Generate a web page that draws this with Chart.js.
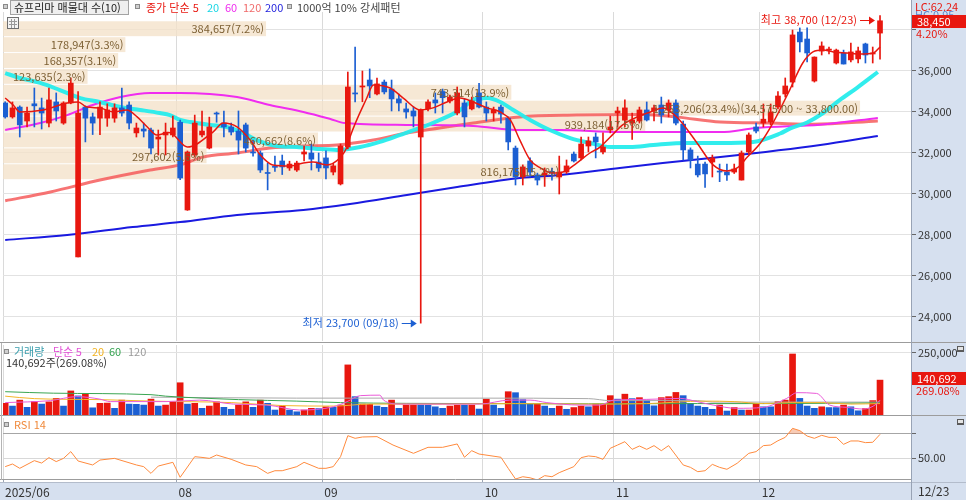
<!DOCTYPE html>
<html lang="ko">
<head>
<meta charset="utf-8">
<title>슈프리마</title>
<script src="https://cdn.jsdelivr.net/npm/chart.js@4.4.1/dist/chart.umd.min.js"></script>
<style>
  html, body { margin: 0; padding: 0; background: #fff; }
  #wrap { position: relative; width: 966px; height: 500px; overflow: hidden; }
  #wrap canvas { position: absolute; left: 0; }
</style>
</head>
<body>
<div id="wrap">
  <canvas id="price-canvas" width="966" height="343" style="top:0"></canvas>
  <canvas id="volume-canvas" width="966" height="73" style="top:343px"></canvas>
  <canvas id="rsi-canvas" width="966" height="84" style="top:416px"></canvas>
</div>
<script>
const FONT = '"Noto Sans CJK KR", "Noto Sans", sans-serif';
const UP = '#e8170f';
const DOWN = '#1c5fd2';
const AXIS_BG = '#d6e0ef';
const AXIS_W = 55;
const X_MIN = -0.3, X_MAX = 124.25;

// daily candles 2025/06/30 .. 2025/12/23
const opens = [34440, 33760, 34240, 33560, 34400, 34200, 33460, 34490, 33460, 34440,
  26930, 34240, 33760, 33700, 33700, 33700, 34200, 34340, 32980, 33170,
  33120, 32680, 32880, 32880, 33500, 29220, 31900, 32880, 32240, 33950,
  33460, 33270, 33070, 33370, 32050, 32000, 31050, 31350, 31610, 31270,
  31170, 31950, 32000, 31560, 31760, 31070, 30490, 32290, 34930, 35220,
  35560, 34880, 35460, 35120, 34640, 34150, 34050, 32780, 34150, 34590,
  35000, 34540, 33950, 34440, 34150, 34930, 34240, 33950, 34240, 33700,
  32240, 30830, 31610, 30930, 30930, 31100, 30830, 31070, 31950, 31760,
  32340, 32780, 32050, 33120, 33950, 33600, 33460, 33560, 34100, 34050,
  34340, 34100, 34440, 33410, 32150, 31460, 31460, 31560, 31100, 31070,
  31070, 30680, 32050, 33270, 33460, 33510, 34240, 34880, 35460, 37900,
  37560, 35510, 36970, 37020, 36390, 36880, 36540, 36590, 37320, 36830,
  37850];
const highs = [34500, 34490, 34300, 34240, 35170, 34680, 35170, 34930, 34500, 35660,
  35000, 34300, 33950, 34490, 34400, 34400, 35170, 34500, 33460, 33460,
  33220, 33120, 33460, 33800, 33600, 32100, 33850, 34050, 33750, 34000,
  34050, 33460, 34050, 33460, 32630, 32100, 31500, 31850, 31900, 31600,
  31600, 32340, 32440, 32000, 32100, 31500, 32440, 35950, 37170, 36000,
  36100, 35660, 35560, 35560, 34880, 34440, 34250, 34150, 34590, 34930,
  35120, 34830, 35220, 34640, 34730, 35400, 34490, 34240, 34340, 33760,
  32340, 31420, 31760, 31020, 31270, 31270, 31850, 31660, 32050, 32780,
  32780, 32980, 32980, 33800, 34240, 34590, 33950, 34240, 34490, 34340,
  34730, 34590, 34590, 33560, 32250, 31850, 31560, 31900, 31460, 31460,
  31460, 32100, 32980, 33460, 34390, 34390, 35000, 35660, 38000, 38100,
  38100, 36690, 37420, 37170, 37070, 37020, 37360, 37170, 37360, 37170,
  38700];
const lows = [33700, 33700, 32780, 33270, 33270, 33170, 33270, 33560, 33400, 34400,
  26930, 32540, 32900, 32900, 33300, 33500, 33800, 33170, 32780, 32780,
  31950, 31900, 31900, 32780, 30700, 29200, 31800, 32780, 32200, 33500,
  32780, 32880, 31950, 32050, 31850, 31050, 30200, 31100, 30950, 31150,
  31100, 31610, 31170, 31100, 30730, 30930, 30440, 32200, 34490, 34500,
  34700, 34830, 34880, 34050, 34050, 33700, 33270, 23700, 34050, 33950,
  33950, 34440, 33860, 33270, 34100, 34200, 33560, 33560, 33460, 32150,
  30440, 30440, 30830, 30440, 30370, 30680, 30000, 31000, 31560, 31660,
  32050, 31760, 31950, 32980, 33270, 33270, 32660, 33460, 33560, 33560,
  33460, 33760, 33370, 31660, 31270, 30830, 30320, 30830, 30600, 30660,
  31000, 30680, 31950, 32980, 33270, 33370, 34150, 34730, 35220, 36930,
  36440, 35460, 36780, 36830, 36340, 36340, 36440, 36390, 36390, 36390,
  36580];
const closes = [33760, 34200, 33370, 33950, 34300, 33950, 34590, 34050, 34440, 35410,
  33950, 33700, 33460, 34240, 34100, 34200, 33950, 33460, 33220, 33070,
  32240, 32780, 33020, 33220, 30780, 32050, 33460, 33070, 33270, 33900,
  33270, 33020, 32630, 32240, 32000, 31170, 31000, 31300, 31320, 31460,
  31510, 32050, 31700, 31270, 31270, 31370, 32340, 35220, 34880, 35270,
  35270, 35370, 34980, 34640, 34440, 34000, 33800, 34100, 34490, 34440,
  34700, 34730, 34930, 33760, 34540, 34240, 33950, 34100, 33900, 32540,
  30830, 31320, 31070, 30680, 31020, 31020, 31070, 31370, 31610, 32440,
  32590, 32540, 32290, 33270, 34050, 34200, 33610, 34100, 33610, 34200,
  33850, 34440, 33460, 32150, 31660, 30930, 30980, 31760, 31070, 30930,
  31220, 32000, 32880, 33070, 33650, 34000, 34780, 35270, 37760, 37420,
  36880, 36680, 37220, 37070, 37020, 36340, 36930, 36980, 36780, 36880,
  38450];
const volumes = [47000, 36000, 60000, 31000, 54000, 44000, 53000, 67000, 36000, 97000,
  77000, 87000, 29000, 47000, 48000, 27000, 60000, 44000, 43000, 40000,
  64000, 36000, 40000, 53000, 130000, 44000, 47000, 27000, 36000, 53000,
  31000, 23000, 40000, 53000, 31000, 60000, 47000, 20000, 36000, 20000,
  13000, 20000, 27000, 26000, 33000, 31000, 40000, 202000, 74000, 44000,
  43000, 36000, 31000, 60000, 27000, 40000, 40000, 40000, 40000, 33000,
  27000, 36000, 40000, 40000, 40000, 24000, 64000, 40000, 27000, 94000,
  90000, 62000, 44000, 44000, 36000, 27000, 36000, 23000, 30000, 36000,
  33000, 44000, 44000, 78000, 64000, 84000, 66000, 70000, 60000, 37000,
  70000, 74000, 91000, 78000, 47000, 36000, 31000, 23000, 40000, 16000,
  30000, 20000, 20000, 47000, 33000, 33000, 54000, 60000, 246000, 67000,
  36000, 27000, 33000, 30000, 30000, 40000, 33000, 17000, 26000, 58000,
  140692];
// volume bar colour: R = red, B = blue
const volumeDir = 'RBRBRBRRBR' + 'BRBRRBRBBB' + 'RBRRRBRBRR' + 'BBRRBRBBRB' + 'BRRBRBRRBR' +
  'RBBRBRRBBB' + 'BRRBRBRBBR' + 'BBBRBBRBRR' + 'BRRRBRBRBB' + 'RRRBBBBBRB' +
  'RBRRBBRRRB' + 'BBRBBRBBRRR';

const monthTicks = [-0.3, 23.5, 43.5, 65.5, 83.5, 103.5];
const monthLabels = ['2025/06', '08', '09', '10', '11', '12'];
const lastDate = '12/23';
const highDate = '12/23';
const lowDate = '09/18';
const lastChange = '4.20%';
const volumeRatio = '269.08%';

// moving averages as [candle index, value]
const ma5 = [[0, 34680], [1.1, 34340], [2, 34000], [5.2, 34100], [8.5, 34440], [10, 34490], [11.2, 34240],
  [13, 34200], [14.8, 34000], [16.7, 34100], [18.1, 33760], [19.5, 33270], [20.8, 32880], [22.5, 33000],
  [25, 32290], [28.5, 33020], [29.9, 33460], [31.8, 33270], [33.6, 32630], [35, 31900], [36.7, 31420],
  [39.1, 31370], [40.9, 31510], [42.2, 31560], [44.1, 31420], [45.9, 31760], [46.9, 32290], [47.3, 32780],
  [49.6, 34680], [50.5, 35320], [52.8, 35170], [54.6, 34680], [56.9, 34100], [58.7, 34200], [60.6, 34490],
  [62.4, 34680], [64.2, 34490], [66.1, 34200], [67.9, 34000], [69.3, 33610], [70.6, 32630], [72, 31660],
  [73.4, 31270], [75.1, 31020], [76.5, 31070], [78.4, 31510], [80.2, 32000], [81.6, 32290], [83, 32780],
  [84.7, 33370], [86.7, 33760], [88.5, 34000], [90.2, 34200], [92.4, 33650], [94.9, 32490], [97.1, 31420],
  [99, 31120], [100.4, 31270], [101.8, 31800], [103.6, 32490], [105.3, 33460], [107.6, 35070], [109.4, 36390],
  [110.8, 36930], [112.2, 37020], [113.6, 36930], [115.5, 36880], [117.3, 36830], [119.1, 36880], [120, 37170]];
const ma20 = [[0, 35900], [2, 35660], [4.8, 35420], [7.5, 35070], [10.3, 34680], [13, 34490], [15.8, 34240],
  [18.5, 34100], [21.2, 33950], [22.6, 33850], [24, 33610], [25.4, 33510], [28.1, 33370], [30.4, 33270],
  [32.6, 32980], [34.5, 32630], [37.3, 32340], [40, 32290], [42.8, 32200], [45.5, 32150], [48.7, 32290],
  [51.4, 32540], [54.2, 32880], [56.9, 33220], [59.6, 33610], [62.4, 34100], [64.2, 34590], [66.1, 34680],
  [67.9, 34490], [69.7, 34100], [72, 33610], [74.7, 33120], [77.5, 32730], [80.2, 32490], [83, 32290],
  [85.7, 32290], [88.9, 32390], [93.5, 32490], [98.1, 32490], [102.6, 32540], [106.3, 32950], [107.7, 33200],
  [110, 33490], [112.2, 33950], [114.5, 34590], [116.8, 35170], [119.7, 35950]];
const ma60 = [[0, 33120], [4.8, 33460], [8.5, 33850], [12, 34340], [15.8, 34730], [19.9, 34930], [24, 34930],
  [31.8, 34730], [36.3, 34340], [40.9, 34000], [44.6, 33660], [46.6, 33460], [55.1, 33370], [64.2, 33320],
  [70.6, 33120], [76.1, 33120], [84.2, 33020], [91, 33020], [98.1, 33020], [103, 33220], [111.8, 33380],
  [119.7, 33710]];
const ma120 = [[0, 29670], [6.2, 30100], [13, 30680], [19.9, 31170], [24, 31420], [27.1, 31800], [31.8, 32000],
  [36.3, 32240], [40.9, 32340], [45.5, 32390], [50.5, 32630], [55.1, 32980], [59.6, 33220], [64.2, 33460],
  [70.6, 33760], [78.4, 33850], [87.5, 33880], [92.2, 33750], [98.1, 33510], [104.9, 33460], [110.8, 33400],
  [119.7, 33560]];
const ma200 = [[0, 27760], [8.5, 28000], [17.5, 28390], [24, 28630], [31.8, 28980], [40.9, 29220],
  [47.3, 29510], [55.1, 29950], [62, 30340], [70.6, 30780], [76.1, 30930], [84.3, 31270], [90.2, 31510],
  [98.1, 31800], [111.8, 32390], [119.7, 32830]];

const volMa5 = [[0, 50000], [6.2, 58000], [9.8, 74000], [13, 64000], [14.4, 54000], [22.1, 54000],
  [26.7, 60000], [31.3, 44000], [35.9, 40000], [40.4, 20000], [45, 33000], [46.9, 54000], [48.7, 78000],
  [51.4, 80000], [51.9, 60000], [54.2, 44000], [65.1, 44000], [69.2, 60000], [72, 60000], [74.3, 50000],
  [78.8, 40000], [81.6, 40000], [83.4, 60000], [88, 63000], [92.6, 67000], [94.9, 54000], [97.1, 40000],
  [100.3, 27000], [104, 31000], [107.2, 67000], [108.6, 90000], [111.3, 87000], [113.1, 40000],
  [115.4, 31000], [117.7, 24000], [119.5, 44000], [120, 60000]];
const volMa20 = [[0, 76000], [4, 66000], [13, 62000], [20, 56000], [31, 50000], [38, 38000], [45, 36000],
  [50, 44000], [60, 44000], [70, 46000], [80, 44000], [88, 46000], [96, 56000], [100, 54000], [104, 46000],
  [108, 50000], [112, 50000], [116, 44000], [120, 46000]];
const volMa60 = [[0, 94000], [6.6, 88000], [20, 82000], [22, 76000], [27, 68000], [32, 62000], [40, 56000],
  [46, 50000], [55, 47000], [65, 46000], [80, 45000], [95, 46000], [105, 46000], [120, 49000]];
const volMa120 = [[20, 72000], [40, 68000], [65, 68000], [80, 66000], [83, 58000], [95, 58000], [97, 52000],
  [120, 52000]];

const rsi14 = [[0, 42.8], [1, 45], [2, 41.4], [4, 47.8], [5, 45.8], [6, 50.3], [7, 47], [8, 49.7], [9, 55.3],
  [10, 47.5], [12, 44.2], [13, 48.3], [15, 49.7], [18, 44.2], [19, 42.8], [20, 37.2], [21, 43.3], [23, 46.4],
  [24, 33.9], [26, 51.1], [27, 50.5], [28, 49.7], [29, 52.5], [31, 48.9], [33, 44.2], [34.5, 42.8], [36, 37.2],
  [37, 39.4], [38, 39.4], [40, 42.8], [41, 46.4], [43, 41.4], [44, 41.4], [45, 42.8], [46, 51.1], [47, 68.6],
  [48, 66.4], [49, 67.5], [51, 67.8], [53.2, 60.8], [56, 53.9], [58, 58.9], [60, 58.9], [62, 61.7], [63, 50.6],
  [64, 56.1], [65, 53.3], [68, 50.6], [69, 41.4], [70, 32.5], [71, 34.4], [72, 33.5], [73, 31.7], [74, 35.3],
  [75, 34.4], [76, 37.8], [78, 42.8], [79, 50.3], [80, 51.7], [81, 51.1], [82, 48.9], [83, 58.1], [84, 60.8],
  [85, 63.6], [86, 57.2], [87, 60], [88, 57.2], [89, 60.3], [90, 56.1], [91, 60.3], [93, 44.2], [94, 42.2],
  [95, 38.6], [96, 39.4], [97, 44.7], [98, 42.2], [99, 40.6], [100.4, 45.6], [102, 53.9], [103, 55.3],
  [104, 60.3], [105, 60.8], [106, 64.4], [107, 67.2], [108, 74.7], [109, 72.8], [110, 68.3], [111, 66.4],
  [112, 68.9], [113, 67.2], [114, 67.2], [115, 61.4], [116, 64.2], [117, 64.2], [118, 62.8], [119, 63.1],
  [120, 69.7]];

// volume profile (매물대), bottom band first
const bandFloor = 30700;
const bandStep = 775;
const bandVolumes = [816175, 297602, 460662, 939184, 1253206, 743314, 123635, 168357, 178947, 384657];
const bandPct = [15.2, 5.6, 8.6, 17.5, 23.4, 13.9, 2.3, 3.1, 3.3, 7.2];

const priceTicks = [24000, 26000, 28000, 30000, 32000, 34000, 36000, 38000];


const fmt = v => v.toLocaleString('en-US');
const fmt2 = v => v.toLocaleString('en-US', { minimumFractionDigits: 2, maximumFractionDigits: 2 });

function xAxis(showLabels) {
    return {
        type: 'linear', min: X_MIN, max: X_MAX, offset: false,
        afterBuildTicks: s => { s.ticks = monthTicks.map(v => ({ value: v })); },
        afterFit: s => { s.height = showLabels ? 20 : 0; s.paddingLeft = 0; s.paddingRight = 0; },
        grid: { color: '#dadada', drawTicks: showLabels, tickLength: 3, tickColor: '#9aa4b4', offset: false },
        border: { display: false },
        ticks: {
            display: showLabels, autoSkip: false, maxRotation: 0, minRotation: 0,
            align: 'start', labelOffset: 2, padding: 2, color: '#333',
            font: { family: FONT, size: 12 },
            callback: (v, i) => monthLabels[i]
        }
    };
}

// invisible axis that turns a band volume into a bar length
function bandAxis() {
    return {
        type: 'linear', position: 'bottom', min: 0, max: 1327740, offset: false,
        afterFit: s => { s.height = 0; s.paddingLeft = 0; s.paddingRight = 0; },
        grid: { display: false, drawTicks: false, offset: false },
        border: { display: false },
        ticks: { display: false }
    };
}

function yAxis(min, max, ticks, label, gridColor) {
    return {
        type: 'linear', position: 'right', min: min, max: max,
        afterBuildTicks: s => { s.ticks = ticks.map(v => ({ value: v })); },
        afterFit: s => { s.width = AXIS_W; s.paddingTop = 0; s.paddingBottom = 0; },
        grid: { color: gridColor, drawTicks: true, tickLength: 5, tickColor: '#666' },
        border: { display: false },
        ticks: { padding: 2, color: '#333', font: { family: FONT, size: 11 }, callback: label }
    };
}

function maLine(points, color, width, order) {
    return {
        type: 'line',
        data: points.map(([x, y]) => ({ x, y })),
        borderColor: color,
        borderWidth: width,
        pointRadius: 0,
        cubicInterpolationMode: 'monotone',
        fill: false,
        order: order
    };
}

function baseOptions(padding) {
    return {
        responsive: false,
        animation: false,
        events: [],
        layout: { padding: padding },
        plugins: { legend: { display: false }, tooltip: { enabled: false } }
    };
}

function square(ctx, x, y) {
    ctx.fillStyle = '#8a8a8a';
    ctx.fillRect(x, y, 5, 5);
    ctx.fillStyle = '#cfcfcf';
    ctx.fillRect(x + 1, y + 1, 3, 3);
}

function texts(ctx, items, y, size) {
    ctx.font = `${size || 11}px ${FONT}`;
    ctx.textBaseline = 'middle';
    ctx.textAlign = 'left';
    for (const [text, color, x] of items) {
        ctx.fillStyle = color;
        ctx.fillText(text, x, y);
    }
}

function arrow(ctx, x0, x1, y, color) {
    ctx.strokeStyle = color;
    ctx.fillStyle = color;
    ctx.lineWidth = 1;
    ctx.beginPath();
    ctx.moveTo(x0, y + 0.5);
    ctx.lineTo(x1 - 4, y + 0.5);
    ctx.stroke();
    ctx.beginPath();
    ctx.moveTo(x1, y + 0.5);
    ctx.lineTo(x1 - 6, y - 3.5);
    ctx.lineTo(x1 - 6, y + 4.5);
    ctx.closePath();
    ctx.fill();
}

function axisBox(ctx, left, right, y, text, sub) {
    ctx.fillStyle = UP;
    ctx.fillRect(left + 1, Math.round(y) - 6, right - left - 1, 13);
    ctx.font = `11px ${FONT}`;
    ctx.textBaseline = 'middle';
    ctx.textAlign = 'left';
    ctx.fillStyle = '#fff';
    ctx.fillText(text, left + 6, Math.round(y) + 0.5);
    ctx.fillStyle = UP;
    ctx.fillText(sub, left + 5, Math.round(y) + 13);
}

function axisIcon(ctx, y) {
    ctx.fillStyle = '#5a5a5a';
    ctx.fillRect(957, y, 7, 6);
    ctx.fillStyle = '#e4e4e4';
    ctx.fillRect(958, y + 1, 5, 3);
}

function fillAxisBackground(chart) {
    const { ctx, width, height, chartArea } = chart;
    ctx.save();
    ctx.fillStyle = AXIS_BG;
    ctx.fillRect(chartArea.right, 0, width - chartArea.right, height);
    ctx.restore();
}

function hLine(ctx, x0, x1, y, color) {
    ctx.strokeStyle = color;
    ctx.lineWidth = 1;
    ctx.beginPath();
    ctx.moveTo(x0, y);
    ctx.lineTo(x1, y);
    ctx.stroke();
}

function vLine(ctx, x, y0, y1, color) {
    ctx.strokeStyle = color;
    ctx.lineWidth = 1;
    ctx.beginPath();
    ctx.moveTo(x, y0);
    ctx.lineTo(x, y1);
    ctx.stroke();
}


const pricePanel = {
    id: 'pricePanel',
    beforeDraw: fillAxisBackground,
    beforeDatasetsDraw(chart) {
        const { ctx, scales: { y, xb } } = chart;
        ctx.save();
        ctx.fillStyle = 'rgba(243, 226, 201, 0.78)';
        bandVolumes.forEach((v, i) => {
            const lo = bandFloor + i * bandStep;
            const top = y.getPixelForValue(lo + bandStep);
            const bottom = y.getPixelForValue(lo);
            const x0 = xb.getPixelForValue(0);
            ctx.fillRect(x0, top + 0.5, xb.getPixelForValue(v) - x0, bottom - top - 1);
        });
        ctx.restore();
    },
    afterDatasetsDraw(chart) {
        const { ctx, scales: { x, y, xb } } = chart;
        ctx.save();
        ctx.font = `11px ${FONT}`;
        ctx.textBaseline = 'middle';
        ctx.textAlign = 'right';
        ctx.fillStyle = '#7d6034';
        const maxVolume = Math.max(...bandVolumes);
        bandVolumes.forEach((v, i) => {
            const lo = bandFloor + i * bandStep;
            let text = `${fmt(v)}(${bandPct[i].toFixed(1)}%)`;
            if (v === maxVolume) {
                text += `(${fmt2(lo + bandStep)} ~ ${fmt2(lo)})`;
            }
            ctx.fillText(text, xb.getPixelForValue(v) - 2, y.getPixelForValue(lo + bandStep / 2) + 0.5);
        });

        // highest / lowest markers
        const hi = Math.max(...highs);
        const hiX = x.getPixelForValue(highs.indexOf(hi)) - 5;
        const hiY = Math.round(y.getPixelForValue(hi)) + 4;
        ctx.fillStyle = UP;
        ctx.fillText(`최고 ${fmt(hi)} (${highDate})`, hiX - 18, hiY);
        arrow(ctx, hiX - 15, hiX, hiY, UP);

        const lo = Math.min(...lows);
        const loX = x.getPixelForValue(lows.indexOf(lo)) - 4;
        const loY = Math.round(y.getPixelForValue(lo));
        ctx.fillStyle = DOWN;
        ctx.fillText(`최저 ${fmt(lo)} (${lowDate})`, loX - 18, loY);
        arrow(ctx, loX - 15, loX, loY, DOWN);
        ctx.restore();
    },
    afterDraw(chart) {
        const { ctx, width, height, chartArea: a, scales: { y } } = chart;
        ctx.save();
        hLine(ctx, 0, width, height - 0.5, '#9c9c9c');
        vLine(ctx, a.right + 0.5, 0, height, '#98a3b5');

        // legend
        square(ctx, 3, 4);
        ctx.fillStyle = '#efefef';
        ctx.fillRect(10.5, 0.5, 118, 14);
        ctx.strokeStyle = '#a3a3a3';
        ctx.strokeRect(10.5, 0.5, 118, 14);
        square(ctx, 135, 4);
        square(ctx, 287, 4);
        texts(ctx, [
            ['슈프리마 매물대 수(10)', '#222', 14],
            ['종가 단순 5', UP, 146],
            ['20', '#19d6e4', 207],
            ['60', '#ee2cee', 225],
            ['120', '#f06a6a', 243],
            ['200', '#2424dd', 265],
            ['1000억 10% 강세패턴', '#444', 297]
        ], 7.5);

        // small table icon
        ctx.fillStyle = '#f4f4f4';
        ctx.fillRect(7.5, 17.5, 11, 11);
        ctx.strokeStyle = '#6f6f6f';
        ctx.strokeRect(7.5, 17.5, 11, 11);
        hLine(ctx, 9, 17, 21.5, '#9a9a9a');
        hLine(ctx, 9, 17, 24.5, '#9a9a9a');
        vLine(ctx, 11.5, 19, 28, '#9a9a9a');
        vLine(ctx, 14.5, 19, 28, '#9a9a9a');

        // right axis texts
        texts(ctx, [['LC:62.24', UP, a.right + 4]], 7);
        texts(ctx, [['HC:0.95', '#5b86cf', a.right + 4]], 15);
        axisBox(ctx, a.right, width, y.getPixelForValue(closes[closes.length - 1]), fmt(closes[closes.length - 1]), lastChange);
        ctx.restore();
    }
};

const volumePanel = {
    id: 'volumePanel',
    beforeDraw: fillAxisBackground,
    afterDraw(chart) {
        const { ctx, width, height, chartArea: a, scales: { y } } = chart;
        ctx.save();
        hLine(ctx, 0, width, height - 0.5, '#9c9c9c');
        vLine(ctx, a.right + 0.5, 0, height, '#98a3b5');
        vLine(ctx, 1.5, 0, height, '#b4b4b4');
        square(ctx, 4, 6);
        texts(ctx, [
            ['거래량', '#3b9ead', 14],
            ['단순 5', '#e24fd6', 53],
            ['20', '#f2b21f', 92],
            ['60', '#33a24f', 109],
            ['120', '#9b9b9b', 128]
        ], 8.5);
        const last = volumes[volumes.length - 1];
        texts(ctx, [[`${fmt(last)}주(${volumeRatio})`, '#333', 6]], 19.5);
        axisIcon(ctx, 3);
        axisBox(ctx, a.right, width, y.getPixelForValue(last) - 2, fmt(last), volumeRatio);
        ctx.restore();
    }
};

const rsiPanel = {
    id: 'rsiPanel',
    beforeDraw(chart) {
        fillAxisBackground(chart);
        const { ctx, width, height, chartArea: a } = chart;
        ctx.save();
        ctx.fillStyle = AXIS_BG;
        ctx.fillRect(0, a.bottom + 3, width, height - a.bottom - 3);
        ctx.restore();
    },
    afterDraw(chart) {
        const { ctx, width, height, chartArea: a } = chart;
        ctx.save();
        hLine(ctx, 0, a.right, a.bottom - 0.5, '#9c9c9c');
        hLine(ctx, 0, width, a.bottom + 2.5, '#b3bccb');
        vLine(ctx, a.right + 0.5, 0, height, '#98a3b5');
        vLine(ctx, 1.5, 0, a.bottom, '#b4b4b4');
        square(ctx, 4, 6);
        texts(ctx, [['RSI 14', '#f08a3c', 14]], 8.5);
        texts(ctx, [[lastDate, '#333', a.right + 7]], a.bottom + 11, 12);
        axisIcon(ctx, 3);
        ctx.restore();
    }
};


const candleColors = opens.map((o, i) => closes[i] >= o ? UP : DOWN);

new Chart(document.getElementById('price-canvas'), {
    type: 'bar',
    data: {
        datasets: [
            maLine(ma5, UP, 1.5, 0),
            {
                type: 'bar',
                data: opens.map((o, i) => ({ x: i, y: [o, closes[i]] })),
                backgroundColor: candleColors,
                barThickness: 5,
                minBarLength: 1,
                grouped: false,
                order: 1
            },
            {
                type: 'bar',
                data: lows.map((l, i) => ({ x: i, y: [l, highs[i]] })),
                backgroundColor: candleColors,
                barThickness: 1,
                grouped: false,
                order: 2
            },
            maLine(ma20, 'rgba(38, 236, 236, 0.95)', 4, 3),
            maLine(ma60, '#f02cf0', 2, 4),
            maLine(ma120, 'rgba(246, 92, 92, 0.85)', 3, 5),
            maLine(ma200, '#1a1ae0', 2, 6)
        ]
    },
    options: Object.assign(baseOptions({ left: 3, right: 0, top: 12, bottom: 2 }), {
        scales: {
            x: xAxis(false),
            xb: bandAxis(),
            y: yAxis(22829, 38878, priceTicks, v => v === 38000 ? '' : fmt(v), '#e2e2e2')
        }
    }),
    plugins: [pricePanel]
});

new Chart(document.getElementById('volume-canvas'), {
    type: 'bar',
    data: {
        datasets: [
            maLine(volMa5, '#ea5ad8', 1, 1),
            maLine(volMa20, '#f4b429', 1, 2),
            maLine(volMa60, '#3aa552', 1, 3),
            maLine(volMa120, '#a9a9a9', 1, 4),
            {
                type: 'bar',
                data: volumes.map((v, i) => ({ x: i, y: v })),
                backgroundColor: volumeDir.split('').map(c => c === 'R' ? UP : DOWN),
                barThickness: 6,
                grouped: false,
                order: 5
            }
        ]
    },
    options: Object.assign(baseOptions({ left: 3, right: 0, top: 2, bottom: 1 }), {
        scales: {
            x: xAxis(false),
            y: yAxis(0, 282258, [250000], v => fmt(v), '#e2e2e2')
        }
    }),
    plugins: [volumePanel]
});

new Chart(document.getElementById('rsi-canvas'), {
    type: 'line',
    data: {
        datasets: [{
            data: rsi14.map(([x, y]) => ({ x, y })),
            borderColor: '#ff8a3d',
            borderWidth: 1,
            pointRadius: 0,
            tension: 0,
            fill: { target: { value: 70 }, above: 'rgba(240, 140, 90, 0.45)', below: 'rgba(0, 0, 0, 0)' }
        }]
    },
    options: Object.assign(baseOptions({ left: 3, right: 0, top: 2, bottom: 0 }), {
        scales: {
            x: xAxis(true),
            y: yAxis(31.67, 83.33, [50, 70], v => v === 50 ? '50.00' : '',
                c => c.tick && c.tick.value === 70 ? '#a6a6a6' : '#d8d8d8')
        }
    }),
    plugins: [rsiPanel]
});
</script>
</body>
</html>
